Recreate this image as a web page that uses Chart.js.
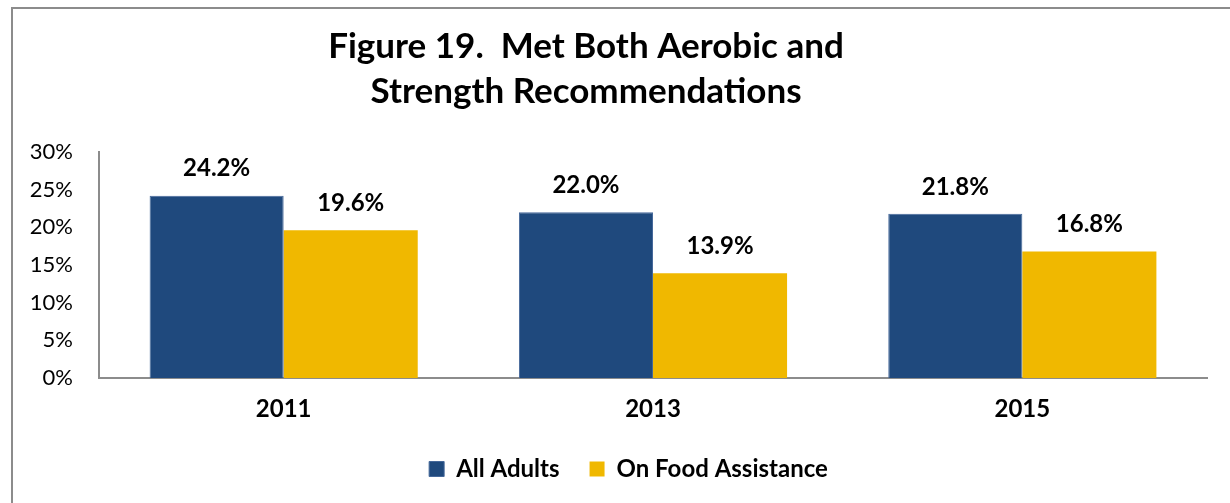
<!DOCTYPE html>
<html>
<head>
    <title>Met Both Aerobic and Strength Recommendations</title>
    <script src="https://cdn.jsdelivr.net/npm/chart.js"></script>
    <style>
        body {
            margin: 0;
            background: #fff;
            font-family: Lato, Arial, sans-serif;
        }
        .frame {
            position: absolute;
            left: 11px;
            top: 7px;
            width: 1260px;
            height: 540px;
            border: 2px solid #8c8c8c;
        }
        .wrap {
            position: absolute;
            left: 0;
            top: 0;
            width: 1230px;
            height: 503px;
        }
    </style>
</head>
<body>
    <div class="frame"></div>
    <div class="wrap"><canvas id="fig19"></canvas></div>
    <script>
        const years = ['2011', '2013', '2015'];
        const allAdults = [24.2, 22.0, 21.8];
        const foodAssistance = [19.6, 13.9, 16.8];
        const yTicks = [0, 5, 10, 15, 20, 25, 30];
        const titleLines = ['Figure 19.  Met Both Aerobic and', 'Strength Recommendations'];

        const font = 'Lato, Arial, sans-serif';

        // title sits a little left of the plot centre, so it is painted by hand
        const titlePlugin = {
            id: 'titleLines',
            afterLayout(chart) {
                // nudge the legend a bit to the right
                if (chart.legend) {
                    chart.legend.left += 25;
                    chart.legend.right += 25;
                }
            },
            afterDraw(chart) {
                const ctx = chart.ctx;
                ctx.save();
                ctx.fillStyle = '#000';
                ctx.font = 'bold 35px ' + font;
                ctx.textAlign = 'center';
                ctx.textBaseline = 'alphabetic';
                ctx.fillText(titleLines[0], 586, 58);
                ctx.fillText(titleLines[1], 586, 103);
                ctx.restore();
            }
        };

        // value labels above each bar
        const valuePlugin = {
            id: 'barValues',
            afterDatasetsDraw(chart) {
                const ctx = chart.ctx;
                ctx.save();
                ctx.fillStyle = '#000';
                ctx.font = 'bold 24px ' + font;
                ctx.textAlign = 'center';
                ctx.textBaseline = 'middle';
                chart.data.datasets.forEach((ds, i) => {
                    chart.getDatasetMeta(i).data.forEach((bar, j) => {
                        ctx.fillText(ds.data[j].toFixed(1) + '%', bar.x, bar.y - 27);
                    });
                });
                ctx.restore();
            }
        };

        new Chart(document.getElementById('fig19'), {
            type: 'bar',
            data: {
                labels: years,
                datasets: [
                    { label: 'All Adults', data: allAdults, backgroundColor: '#1f497d', borderColor: '#45689a', borderWidth: 1 },
                    { label: 'On Food Assistance', data: foodAssistance, backgroundColor: '#f0b800', borderWidth: 0 }
                ]
            },
            options: {
                responsive: true,
                maintainAspectRatio: false,
                animation: false,
                devicePixelRatio: 1,
                layout: { padding: { top: 152, right: 23, bottom: 12, left: 0 } },
                datasets: { bar: { barPercentage: 1, categoryPercentage: 0.726 } },
                plugins: {
                    title: { display: false },
                    tooltip: { enabled: false },
                    legend: {
                        position: 'bottom',
                        labels: {
                            color: '#000',
                            font: { family: font, size: 24, weight: 'bold' },
                            boxWidth: 15,
                            boxHeight: 15,
                            padding: 30
                        }
                    }
                },
                scales: {
                    x: {
                        grid: { display: false, drawTicks: false },
                        border: { color: '#8c8c8c', width: 2 },
                        ticks: { color: '#000', font: { family: font, size: 24, weight: 'bold' }, padding: 17 },
                        afterFit(scale) { scale.height = 49; }
                    },
                    y: {
                        min: 0,
                        max: 30,
                        afterBuildTicks(scale) { scale.ticks = yTicks.map(v => ({ value: v })); },
                        grid: { display: false, drawTicks: false },
                        border: { color: '#8c8c8c', width: 2 },
                        ticks: {
                            color: '#000',
                            font: { family: font, size: 22 },
                            padding: 26,
                            callback: v => v + '%'
                        },
                        afterFit(scale) { scale.width = 99; }
                    }
                }
            },
            plugins: [titlePlugin, valuePlugin]
        });
    </script>
</body>
</html>
